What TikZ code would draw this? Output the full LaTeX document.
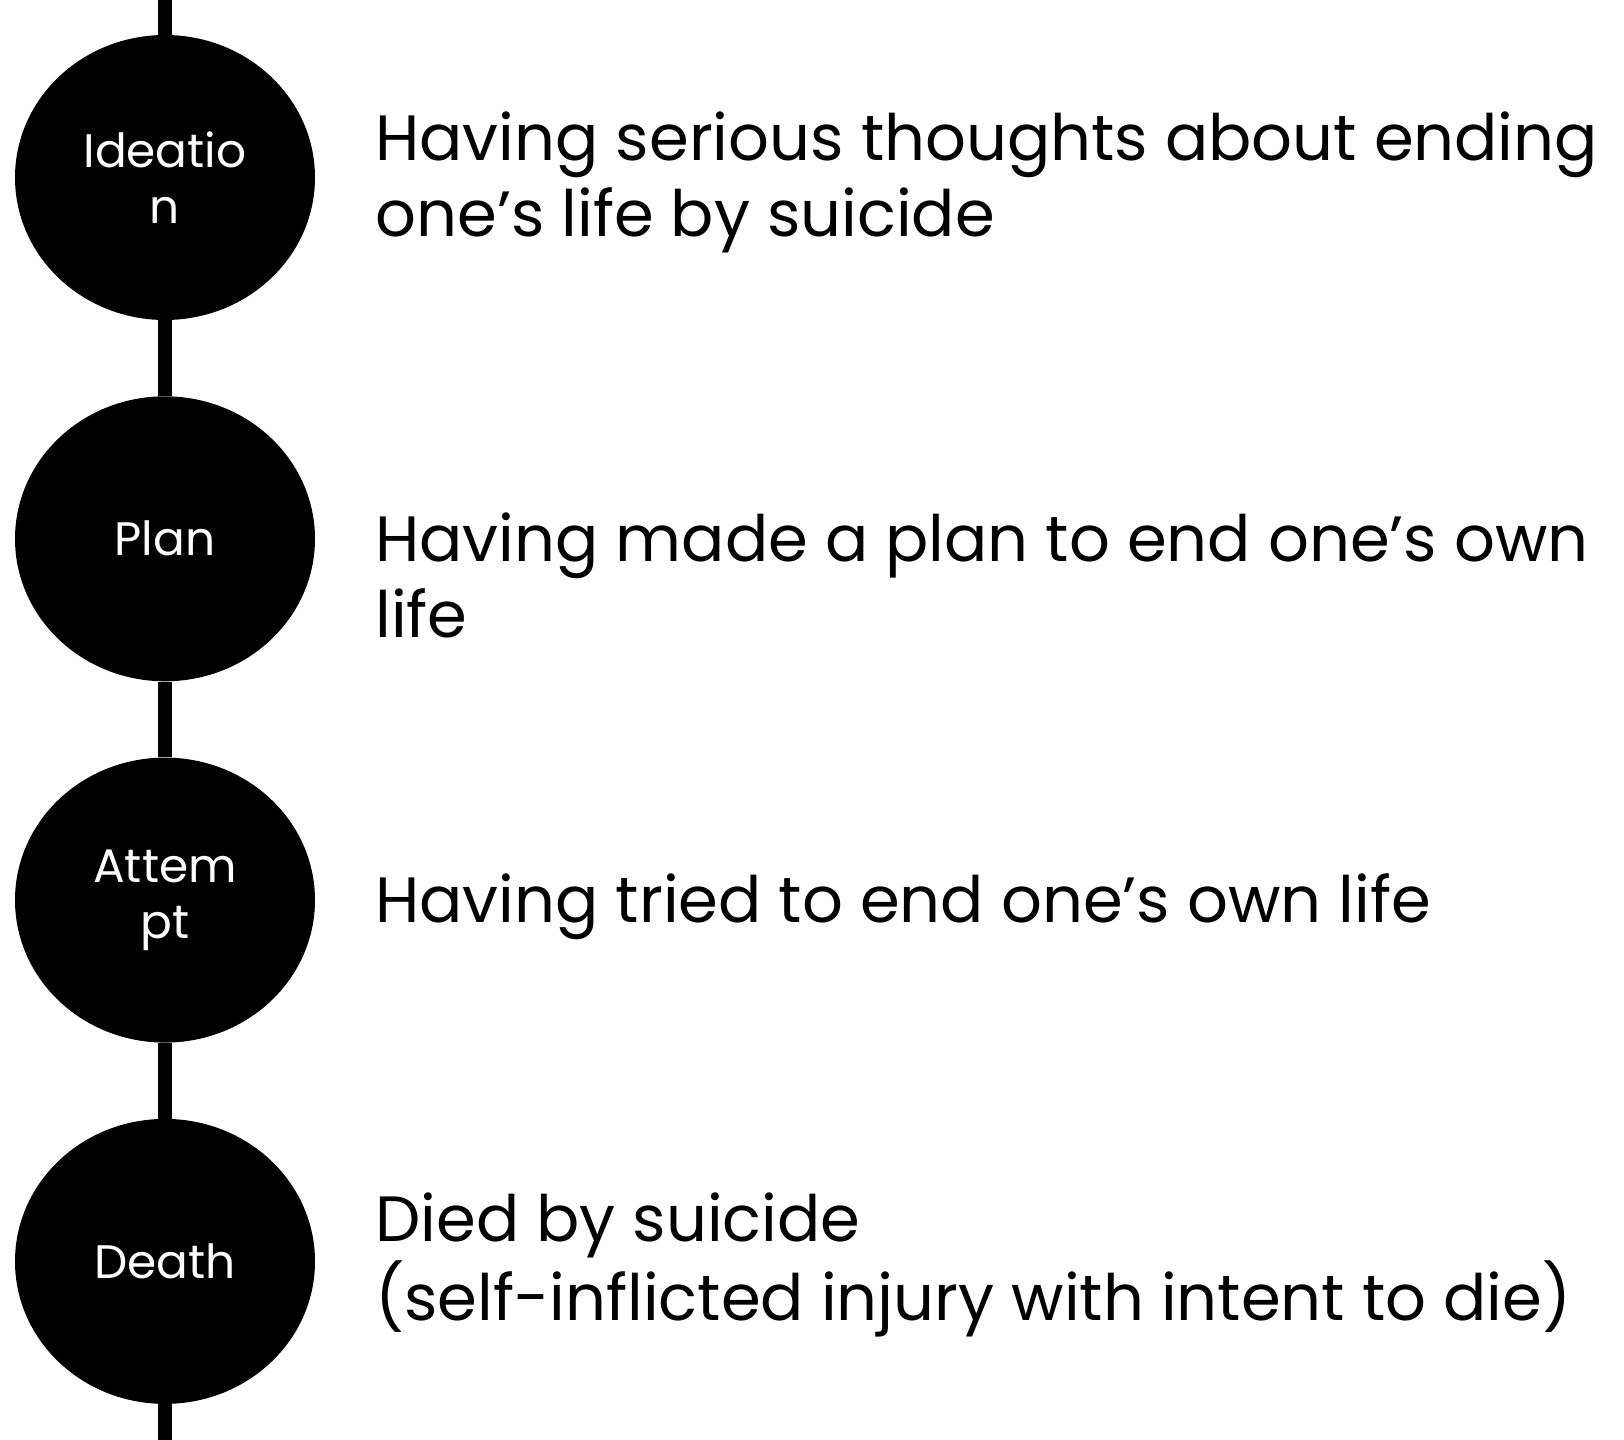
\documentclass[tikz,border=0pt]{standalone}
\usepackage{fontspec}
\setmainfont{Poppins}
\usetikzlibrary{shapes.geometric, positioning}

\begin{document}
\begin{tikzpicture}[x=0.5pt, y=-0.5pt, node distance=37.75pt,
    stage/.style={ellipse, fill=black, draw=none, minimum width=150pt, minimum height=142.5pt, inner sep=0pt, text=white, align=center, font=\fontsize{23.5}{28}\selectfont},
    desc/.style={anchor=base west, align=left, inner sep=0pt, font=\fontsize{32}{38}\selectfont},
    spine/.style={line width=7pt, black}]
    \useasboundingbox (0,0) rectangle (1624,1440);
    % Stages
    \node (ideation) [stage] at (165,177.5) {Ideatio\\n};
    \node (plan) [stage, below=of ideation] {Plan};
    \node (attempt) [stage, below=of plan] {Attem\\pt};
    \node (death) [stage, below=of attempt] {Death};
    \coordinate (top) at (165,0);
    \coordinate (bottom) at (165,1440);

    % Descriptions (anchored on the last line)
    \node (ideationtext) [desc] at (375,236) {Having serious thoughts about ending\\one’s life by suicide};
    \node (plantext) [desc] at (375,637) {Having made a plan to end one’s own\\life};
    \node (attempttext) [desc] at (375,922) {Having tried to end one’s own life};
    \node (deathtext) [desc] at (375,1320) {Died by suicide\\(self-inflicted injury with intent to die)};

    % Spine
    \draw [spine] (top) -- (ideation);
    \draw [spine] (ideation) -- (plan);
    \draw [spine] (plan) -- (attempt);
    \draw [spine] (attempt) -- (death);
    \draw [spine] (death) -- (bottom);
\end{tikzpicture}
\end{document}
